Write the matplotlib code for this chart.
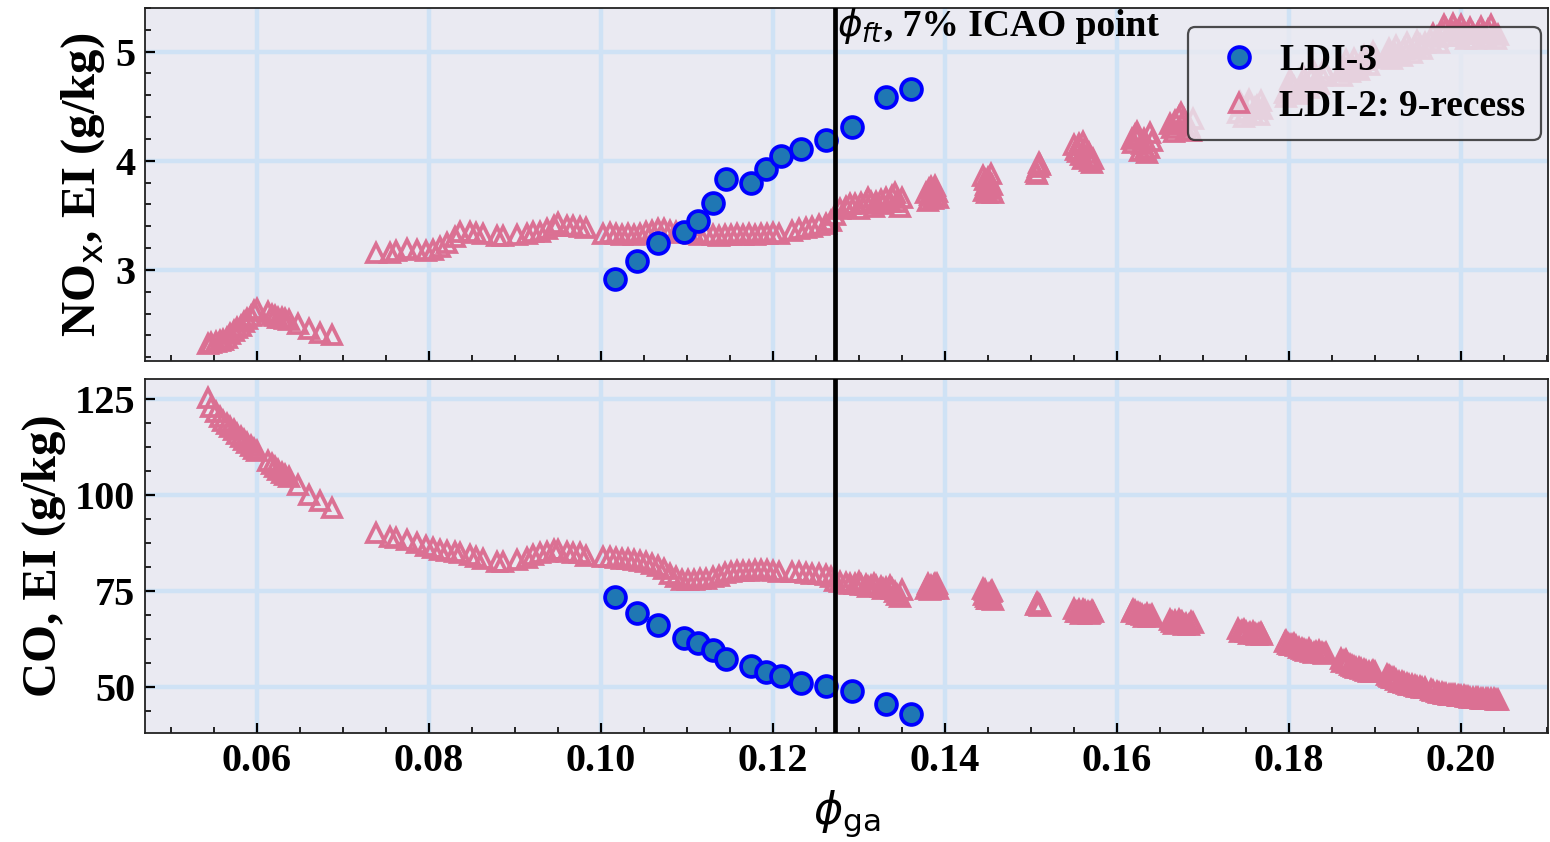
import matplotlib
matplotlib.use("Agg")
import matplotlib.pyplot as plt
import matplotlib.transforms as mtransforms
from matplotlib.ticker import MultipleLocator, AutoMinorLocator

# ---------------- data ----------------
ldi3_phi = [0.1016, 0.1042, 0.1066, 0.1097, 0.1113, 0.1130, 0.1146, 0.1174,
            0.1192, 0.1209, 0.1233, 0.1262, 0.1292, 0.1332, 0.1360]
ldi3_nox = [2.92, 3.08, 3.25, 3.35, 3.45, 3.61, 3.83, 3.80,
            3.92, 4.04, 4.11, 4.19, 4.31, 4.58, 4.66]
ldi3_co = [73.5, 69.2, 66.1, 62.7, 61.5, 59.5, 57.2, 55.5,
           54.0, 52.9, 51.0, 50.3, 49.0, 45.6, 43.0]

ldi2_phi = [
    0.0543, 0.0547, 0.0552, 0.0557, 0.0561, 0.0565, 0.0569, 0.0573, 0.0577, 0.0581, 0.0585, 0.0589, 0.0593,
    0.0597, 0.0600, 0.0613, 0.0617, 0.0621, 0.0625, 0.0629, 0.0633, 0.0637, 0.0648, 0.0660, 0.0673, 0.0687,
    0.0739, 0.0755, 0.0762, 0.0774, 0.0786, 0.0797, 0.0805, 0.0813, 0.0821, 0.0830, 0.0836, 0.0848, 0.0855,
    0.0863, 0.0879, 0.0886, 0.0902, 0.0914, 0.0921, 0.0929, 0.0937, 0.0945, 0.0950, 0.0960, 0.0968, 0.0976, 0.0983,
    0.1003, 0.1010, 0.1017, 0.1024, 0.1031, 0.1038, 0.1045, 0.1052, 0.1059, 0.1066, 0.1073, 0.1080, 0.1087,
    0.1094, 0.1101, 0.1108, 0.1115, 0.1122, 0.1130, 0.1137, 0.1144, 0.1151, 0.1158, 0.1165, 0.1172, 0.1179,
    0.1186, 0.1193, 0.1200, 0.1207,
    0.1222, 0.1230, 0.1238, 0.1246, 0.1254, 0.1262, 0.1268, 0.1272,
    0.1278, 0.1285, 0.1290, 0.1296, 0.1302, 0.1308, 0.1314, 0.1320, 0.1326, 0.1332, 0.1338, 0.1344, 0.1348, 0.1350,
    0.1300, 0.1310, 0.1318, 0.1328, 0.1336, 0.1342,
    0.1378, 0.1381, 0.1384, 0.1387, 0.1390, 0.1392, 0.1386, 0.1389, 0.1380, 0.1383, 0.1388, 0.1391,
    0.1445, 0.1448, 0.1450, 0.1452, 0.1454, 0.1456, 0.1447, 0.1451, 0.1444, 0.1449, 0.1453, 0.1455,
    0.1506, 0.1508, 0.1510, 0.1507, 0.1509,
    0.1552, 0.1556, 0.1560, 0.1563, 0.1566, 0.1569, 0.1572, 0.1558, 0.1550, 0.1555, 0.1561, 0.1568, 0.1571,
    0.1617, 0.1621, 0.1625, 0.1629, 0.1633, 0.1637, 0.1641, 0.1627, 0.1619, 0.1623, 0.1631, 0.1635, 0.1639,
    0.1664, 0.1668, 0.1672, 0.1676, 0.1680, 0.1684, 0.1688, 0.1662, 0.1666, 0.1674, 0.1678, 0.1686,
    0.1741, 0.1745, 0.1750, 0.1755, 0.1760, 0.1765, 0.1769, 0.1743, 0.1748, 0.1753, 0.1758, 0.1763, 0.1767,
    0.1795, 0.1799, 0.1803, 0.1808, 0.1815, 0.1820, 0.1826, 0.1832, 0.1838, 0.1843,
    0.1797, 0.1801, 0.1806, 0.1812, 0.1818, 0.1823, 0.1829, 0.1835, 0.1841,
    0.1860, 0.1864, 0.1868, 0.1873, 0.1878, 0.1884, 0.1890, 0.1896, 0.1900,
    0.1862, 0.1866, 0.1871, 0.1876, 0.1881, 0.1887, 0.1893, 0.1898,
    0.1914, 0.1918, 0.1922, 0.1928, 0.1934, 0.1940, 0.1946, 0.1952, 0.1958,
    0.1916, 0.1920, 0.1925, 0.1931, 0.1937, 0.1943, 0.1949, 0.1955,
    0.1965, 0.1972, 0.1978, 0.1983, 0.1988, 0.1993, 0.1998, 0.2003, 0.2008, 0.2014, 0.2020, 0.2026, 0.2032,
    0.2038, 0.2043,
    0.1968, 0.1975, 0.1980, 0.1986, 0.1991, 0.1996, 0.2000, 0.2006, 0.2011, 0.2017, 0.2023, 0.2029, 0.2035,
    0.2041,
]
ldi2_nox = [
    2.32, 2.33, 2.34, 2.35, 2.36, 2.38, 2.41, 2.44, 2.47, 2.49, 2.52, 2.55, 2.58,
    2.62, 2.64, 2.61, 2.59, 2.58, 2.56, 2.56, 2.55, 2.54, 2.50, 2.46, 2.42, 2.40,
    3.15, 3.15, 3.17, 3.19, 3.18, 3.17, 3.18, 3.21, 3.25, 3.30, 3.35, 3.345, 3.34,
    3.33, 3.31, 3.31, 3.32, 3.33, 3.345, 3.35, 3.37, 3.40, 3.43, 3.40, 3.40, 3.39, 3.38,
    3.33, 3.34, 3.33, 3.32, 3.33, 3.32, 3.33, 3.35, 3.36, 3.37, 3.37, 3.36, 3.35,
    3.34, 3.35, 3.33, 3.32, 3.33, 3.32, 3.31, 3.32, 3.32, 3.33, 3.32, 3.33, 3.32,
    3.33, 3.33, 3.34, 3.33,
    3.36, 3.37, 3.38, 3.39, 3.41, 3.42, 3.45, 3.50,
    3.56, 3.58, 3.60, 3.60, 3.61, 3.61, 3.62, 3.62, 3.64, 3.66, 3.68, 3.62, 3.58, 3.66,
    3.56, 3.66, 3.58, 3.60, 3.62, 3.70,
    3.70, 3.74, 3.76, 3.72, 3.68, 3.66, 3.65, 3.77, 3.63, 3.69, 3.74, 3.71,
    3.72, 3.78, 3.84, 3.80, 3.74, 3.70, 3.82, 3.76, 3.86, 3.70, 3.88, 3.78,
    3.90, 3.94, 3.96, 3.88, 3.98,
    4.10, 4.15, 4.17, 4.12, 4.03, 4.00, 4.02, 4.05, 4.14, 4.08, 4.02, 4.07, 3.98,
    4.20, 4.24, 4.22, 4.15, 4.10, 4.12, 4.18, 4.09, 4.16, 4.26, 4.20, 4.07, 4.25,
    4.30, 4.36, 4.40, 4.34, 4.28, 4.32, 4.38, 4.34, 4.26, 4.44, 4.38, 4.27,
    4.44, 4.50, 4.46, 4.52, 4.48, 4.42, 4.47, 4.54, 4.40, 4.56, 4.43, 4.50, 4.55,
    4.62, 4.66, 4.70, 4.64, 4.68, 4.72, 4.76, 4.74, 4.78, 4.80,
    4.58, 4.74, 4.68, 4.61, 4.76, 4.67, 4.81, 4.70, 4.84,
    4.82, 4.86, 4.84, 4.88, 4.86, 4.90, 4.92, 4.94, 4.96,
    4.78, 4.92, 4.81, 4.93, 4.83, 4.96, 4.88, 5.00,
    4.96, 4.98, 5.00, 5.00, 5.02, 5.03, 5.05, 5.06, 5.08,
    5.02, 4.93, 5.05, 4.96, 5.08, 4.99, 5.10, 5.02,
    5.10, 5.13, 5.18, 5.21, 5.20, 5.19, 5.20, 5.18, 5.17, 5.16, 5.17, 5.18, 5.20,
    5.17, 5.15,
    5.16, 5.08, 5.24, 5.14, 5.25, 5.14, 5.24, 5.12, 5.22, 5.12, 5.23, 5.13, 5.24,
    5.12,
]
ldi2_co = [
    125.3, 123.0, 121.5, 120.3, 119.3, 118.4, 117.6, 116.8, 116.0, 115.2, 114.4, 113.6, 112.8,
    112.0, 111.5, 108.9, 108.0, 107.3, 106.5, 105.8, 105.2, 104.6, 102.6, 100.0, 98.3, 96.5,
    90.0, 89.1, 88.7, 88.3, 87.4, 86.6, 86.1, 85.7, 85.4, 85.1, 84.8, 84.4, 83.9,
    83.3, 82.6, 82.6, 83.1, 83.7, 84.4, 84.8, 85.2, 85.7, 85.7, 85.2, 84.9, 84.8, 84.1,
    83.9, 83.8, 83.6, 83.4, 83.2, 83.0, 82.8, 82.5, 82.0, 81.5, 80.8, 79.5, 78.5,
    77.8, 77.8, 77.9, 78.0, 78.2, 78.6, 79.0, 79.6, 80.0, 80.2, 80.3, 80.3, 80.4,
    80.5, 80.4, 80.2, 80.0,
    80.0, 79.8, 79.6, 79.5, 79.3, 79.1, 78.5, 77.5,
    77.2, 77.0, 76.8, 76.9, 76.6, 76.5, 76.3, 76.2, 76.0, 75.8, 75.5, 74.0, 73.4, 75.2,
    77.4, 75.9, 76.7, 75.4, 76.2, 74.6,
    75.4, 75.8, 76.3, 76.6, 76.2, 75.6, 75.5, 76.8, 76.9, 75.2, 75.9, 76.9,
    74.0, 73.4, 72.9, 73.6, 74.6, 72.6, 75.2, 74.2, 75.6, 72.8, 73.2, 75.0,
    71.3, 71.6, 71.0, 71.8, 71.2,
    69.6, 69.9, 70.1, 69.8, 69.4, 69.2, 69.5, 69.0, 70.2, 69.4, 69.7, 69.0, 69.8,
    69.5, 69.7, 69.2, 68.8, 68.5, 68.3, 68.6, 68.9, 69.9, 69.0, 68.2, 68.9, 68.4,
    66.8, 67.2, 67.4, 67.0, 66.4, 66.2, 66.6, 67.4, 66.5, 66.9, 66.1, 66.8,
    65.0, 64.6, 64.2, 64.0, 63.9, 63.8, 63.6, 64.4, 64.9, 63.7, 64.3, 63.5, 64.1,
    61.6, 61.2, 60.8, 60.6, 59.8, 59.4, 59.2, 59.0, 58.9, 58.8,
    61.9, 60.9, 61.3, 60.2, 59.6, 59.9, 58.9, 59.3, 58.5,
    57.2, 56.8, 56.2, 55.4, 55.0, 54.6, 54.2, 54.0, 53.8,
    56.6, 57.0, 55.8, 55.2, 54.8, 54.4, 53.9, 54.1,
    53.0, 52.6, 52.2, 51.4, 51.0, 50.6, 50.2, 49.9, 49.6,
    52.8, 52.4, 51.8, 51.2, 50.8, 50.4, 50.0, 49.7,
    49.2, 48.6, 48.3, 48.1, 47.9, 47.8, 47.6, 47.5, 47.3, 47.1, 47.0, 46.9, 46.9,
    46.8, 46.7,
    48.9, 48.4, 48.2, 48.0, 47.8, 47.7, 47.5, 47.4, 47.2, 47.1, 46.9, 46.8, 46.8,
    46.7,
]

phi_ft = 0.1272
x_ticks_step = 0.02
label_ldi3 = "LDI-3"
label_ldi2 = "LDI-2: 9-recess"
annot_math = r"$\phi_{ft}$"
annot_rest = ", 7% ICAO point"
ylabel_top = r"NO$_{\mathrm{x}}$, EI (g/kg)"
ylabel_bot = "CO, EI (g/kg)"
xlabel = r"$\phi_{\mathrm{ga}}$"

# ---------------- style ----------------
plt.rcParams["font.family"] = ["Liberation Serif", "DejaVu Serif"]
plt.rcParams["mathtext.fontset"] = "dejavusans"

BG = "#EAEAF2"
GRID = "#cfe2f5"
PINK = "#DB7093"

fig = plt.figure(figsize=(15.5, 8.42), dpi=100)
ax1 = fig.add_axes([0.0935, 0.5713, 0.9052, 0.4192])
ax2 = fig.add_axes([0.0935, 0.1295, 0.9052, 0.4204])

tri_kw = dict(ls="none", marker="^", ms=12.5, mew=2.7, mec=PINK, mfc="none", zorder=3)
circ_kw = dict(ls="none", marker="o", ms=15, mew=2.7, mec="blue", mfc="#1f77b4", zorder=4)

for ax, y2, y3 in [(ax1, ldi2_nox, ldi3_nox), (ax2, ldi2_co, ldi3_co)]:
    ax.set_facecolor(BG)
    ax.set_axisbelow(True)
    ax.grid(True, which="major", color=GRID, lw=3.2)
    ax.plot(ldi2_phi, y2, label=label_ldi2, **tri_kw)
    ax.plot(ldi3_phi, y3, label=label_ldi3, **circ_kw)
    ax.axvline(phi_ft, color="black", lw=3.4, zorder=5)
    ax.set_xlim(0.04698, 0.21012)
    ax.xaxis.set_major_locator(MultipleLocator(x_ticks_step))
    ax.xaxis.set_minor_locator(MultipleLocator(0.005))
    ax.tick_params(which="both", direction="in", top=False, right=False,
                   labelsize=29, color="black")
    ax.tick_params(which="major", length=7, width=1.6, pad=7)
    ax.tick_params(which="minor", length=4, width=1.2)
    for s in ax.spines.values():
        s.set_color("#222222")
        s.set_linewidth(1.3)

ax1.set_ylim(2.165, 5.40)
ax1.yaxis.set_major_locator(MultipleLocator(1))
ax1.yaxis.set_minor_locator(AutoMinorLocator(5))
ax1.tick_params(labelbottom=False)
ax2.set_ylim(38.0, 130.2)
ax2.yaxis.set_major_locator(MultipleLocator(25))
ax2.yaxis.set_minor_locator(AutoMinorLocator(4))

for ax in (ax1, ax2):
    for lab in ax.get_xticklabels() + ax.get_yticklabels():
        lab.set_fontweight("bold")

ax1.set_ylabel(ylabel_top, fontsize=35, fontweight="bold", labelpad=6)
ax2.set_ylabel(ylabel_bot, fontsize=35, fontweight="bold", labelpad=6)
ax2.set_xlabel(xlabel, fontsize=32, fontweight="normal", labelpad=6)

trans = mtransforms.blended_transform_factory(ax1.transData, ax1.transAxes)
y_base = 0.921
t1 = ax1.text(phi_ft + 0.0003, y_base, annot_math, transform=trans, ha="left",
              va="baseline", fontsize=27, fontweight="normal", zorder=6)
ax1.annotate(annot_rest, xy=(1.0, y_base), xycoords=(t1, "axes fraction"),
             ha="left", va="baseline", fontsize=27, fontweight="bold", zorder=6)

h, l = ax1.get_legend_handles_labels()
leg = ax1.legend(h[::-1], l[::-1], loc="upper right", bbox_to_anchor=(0.995, 0.946),
                 borderaxespad=0, prop={"size": 27, "weight": "bold"},
                 frameon=True, fancybox=True, framealpha=0.8, facecolor=BG,
                 edgecolor="#222222", borderpad=0.42, handlelength=1.9,
                 handletextpad=0.12, labelspacing=0.3)
leg.get_frame().set_linewidth(1.6)
leg.set_zorder(10)

fig.savefig("out.png", dpi=100)
